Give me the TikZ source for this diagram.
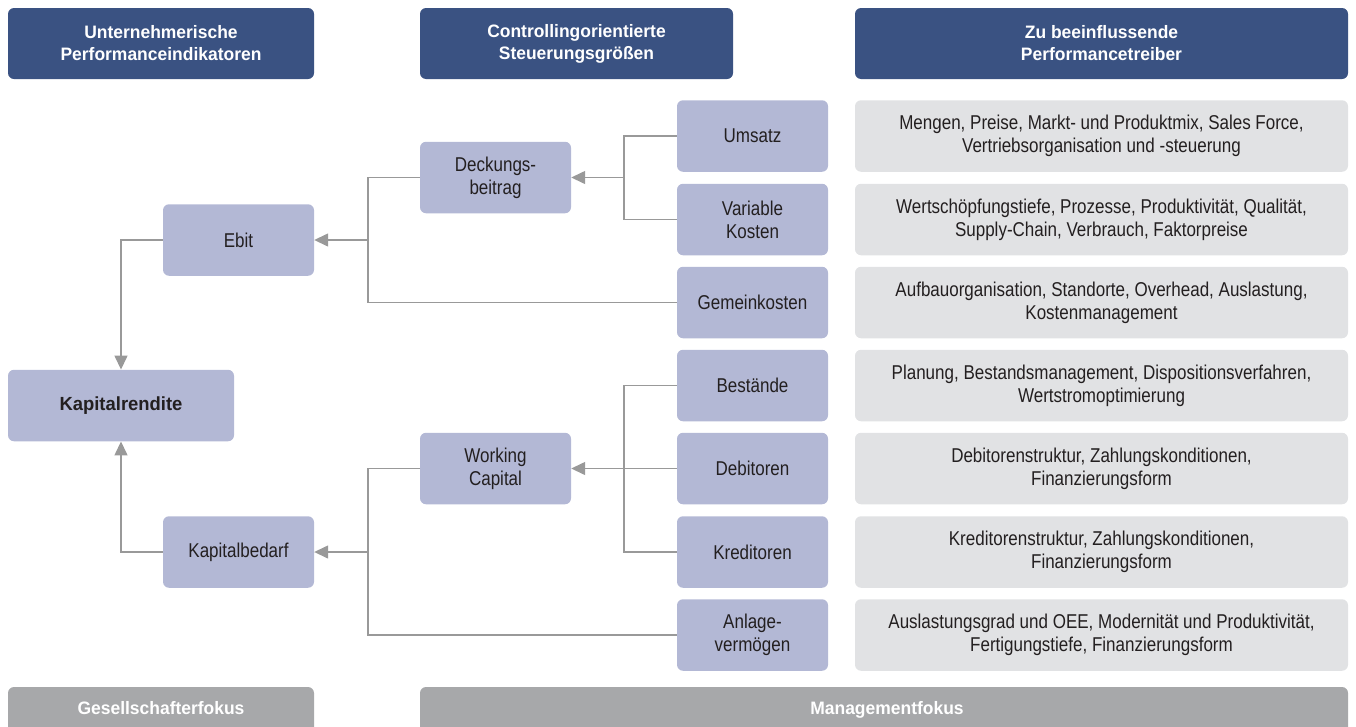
\documentclass[tikz,border=0pt]{standalone}
\usepackage{fontspec}
\setmainfont[FakeStretch=0.85]{Liberation Sans}
\newfontfamily\boldcond[FakeStretch=0.97]{Liberation Sans Bold}
\usetikzlibrary{arrows.meta}
\definecolor{hdr}{RGB}{58,82,130}
\definecolor{nodeblue}{RGB}{179,184,213}
\definecolor{lightgray}{RGB}{225,226,228}
\definecolor{footgray}{RGB}{167,168,170}
\definecolor{linegray}{RGB}{153,153,153}
\definecolor{txt}{RGB}{35,31,32}
\tikzset{
  base/.style={rounded corners=6pt, inner sep=0pt, align=center, font=\fontsize{20}{23}\selectfont, text=txt},
  hdrbox/.style={base, fill=hdr, text=white, font=\boldcond\fontsize{18}{22}\selectfont, minimum height=71pt},
  bluebox/.style={base, fill=nodeblue, minimum width=151pt, minimum height=71.5pt},
  graybox/.style={base, fill=lightgray, minimum width=493pt, minimum height=71.5pt},
  footbox/.style={base, fill=footgray},
  foottext/.style={font=\boldcond\fontsize{18}{22}\selectfont, text=white, text height=13pt, text depth=4pt, inner sep=0pt},
  conn/.style={draw=linegray, line width=1.4pt},
  arr/.style={conn, -{Triangle[length=14pt, width=13pt]}, linegray}
}
\begin{document}
\begin{tikzpicture}[x=1pt, y=-1pt]
\useasboundingbox (0,0) rectangle (1356,726);
% headers
\node[hdrbox, minimum width=306pt] (h1) at (161,43.5) {Unternehmerische\\Performanceindikatoren};
\node[hdrbox, minimum width=313pt] (h2) at (576.5,43.5) {Controllingorientierte\\Steuerungsgrößen};
\node[hdrbox, minimum width=493pt] (h3) at (1101.5,43.5) {Zu beeinflussende\\Performancetreiber};
% footers
\begin{scope}
\clip (0,0) rectangle (1356,726);
\node[footbox, minimum width=306pt, minimum height=90pt] (f1) at (161,732) {};
\node[footbox, minimum width=928pt, minimum height=90pt] (f2) at (884,732) {};
\end{scope}
\node[foottext] (f1t) at (161,710) {Gesellschafterfokus};
\node[foottext] (f2t) at (887,710) {Managementfokus};
% left column
\node[bluebox, minimum width=226pt, font=\boldcond\fontsize{19}{23}\selectfont] (kr) at (121,405.5) {Kapitalrendite};
\node[bluebox] (ebit) at (238.5,240) {Ebit};
\node[bluebox] (kb) at (238.5,552) {Kapitalbedarf};
% middle column
\node[bluebox] (db) at (495.5,177.5) {Deckungs-\\beitrag};
\node[bluebox] (wc) at (495.5,468.5) {Working\\Capital};
% right column
\node[bluebox] (um) at (752.5,136) {Umsatz};
\node[bluebox] (vk) at (752.5,219.5) {Variable\\Kosten};
\node[bluebox] (gk) at (752.5,302.5) {Gemeinkosten};
\node[bluebox] (be) at (752.5,385.5) {Bestände};
\node[bluebox] (deb) at (752.5,468.5) {Debitoren};
\node[bluebox] (kre) at (752.5,552) {Kreditoren};
\node[bluebox] (av) at (752.5,635) {Anlage-\\vermögen};
% gray boxes
\node[graybox] (g1) at (1101.5,136) {Mengen, Preise, Markt- und Produktmix, Sales Force,\\Vertriebsorganisation und -steuerung};
\node[graybox] (g2) at (1101.5,219.5) {Wertschöpfungstiefe, Prozesse, Produktivität, Qualität,\\Supply-Chain, Verbrauch, Faktorpreise};
\node[graybox] (g3) at (1101.5,302.5) {Aufbauorganisation, Standorte, Overhead, Auslastung,\\Kostenmanagement};
\node[graybox] (g4) at (1101.5,385.5) {Planung, Bestandsmanagement, Dispositionsverfahren,\\Wertstromoptimierung};
\node[graybox] (g5) at (1101.5,468.5) {Debitorenstruktur, Zahlungskonditionen,\\Finanzierungsform};
\node[graybox] (g6) at (1101.5,552) {Kreditorenstruktur, Zahlungskonditionen,\\Finanzierungsform};
\node[graybox] (g7) at (1101.5,635) {Auslastungsgrad und OEE, Modernität und Produktivität,\\Fertigungstiefe, Finanzierungsform};
% junctions
\coordinate (j1) at (368,240);
\coordinate (j2) at (624,177.5);
\coordinate (j3) at (624,468.5);
\coordinate (j4) at (368,552);
% connectors
\draw[conn] (db.west) -| (j1) |- (gk.west);
\draw[arr] (j1) -- (ebit.east);
\draw[conn] (um.west) -| (j2) |- (vk.west);
\draw[arr] (j2) -- (db.east);
\draw[conn] (be.west) -| (j3) |- (kre.west);
\draw[conn] (deb.west) -- (j3);
\draw[arr] (j3) -- (wc.east);
\draw[conn] (wc.west) -| (j4) |- (av.west);
\draw[arr] (j4) -- (kb.east);
\draw[arr] (ebit.west) -| (kr.north);
\draw[arr] (kb.west) -| (kr.south);
\end{tikzpicture}
\end{document}
